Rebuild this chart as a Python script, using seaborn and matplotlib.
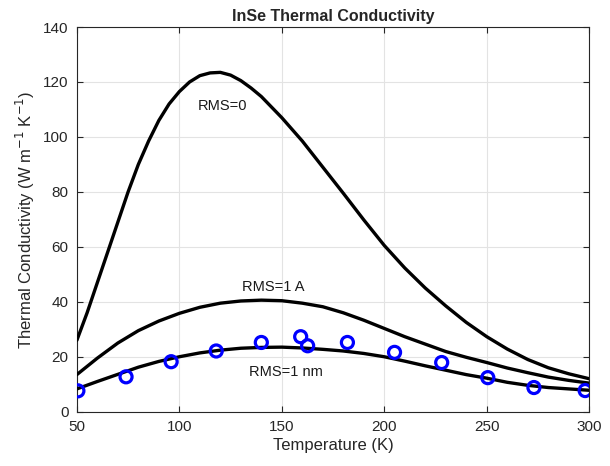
"""InSe thermal conductivity vs temperature, three roughness curves + measured points."""
import matplotlib
matplotlib.use("Agg")
import matplotlib.pyplot as plt
import pandas as pd
import seaborn as sns

# model curves
T_FINE = [50, 55, 60, 65, 70, 75, 80, 85, 90, 95, 100, 105, 110, 115, 120, 125,
          130, 135, 140, 150, 160, 170, 180, 190, 200, 210, 220, 230, 240, 250,
          260, 270, 280, 290, 300]
K_RMS0 = [26, 36, 47, 58, 69, 80, 90, 98.5, 106, 112, 116.5, 120, 122.3, 123.3,
          123.5, 122.5, 120.5, 117.8, 114.7, 107, 98.5, 89, 79.5, 69.8, 60.5,
          52.3, 45, 38.5, 32.5, 27.3, 22.8, 19, 16, 13.8, 12]

T_COARSE = [50, 60, 70, 80, 90, 100, 110, 120, 130, 140, 150, 160, 170, 180,
            190, 200, 210, 220, 230, 240, 250, 260, 270, 280, 290, 300]
K_RMS1A = [13.5, 19.5, 25, 29.5, 33, 35.8, 38, 39.5, 40.3, 40.6, 40.4, 39.5,
           38.2, 36, 33.3, 30.3, 27.3, 24.6, 21.9, 19.8, 17.9, 15.9, 14.2, 12.6,
           11.4, 10.4]
K_RMS1NM = [8.3, 11, 13.6, 16.2, 18.3, 20, 21.4, 22.4, 23.1, 23.4, 23.5, 23.2,
            22.7, 22.1, 21.2, 20, 18.4, 16.7, 15.1, 13.5, 12.2, 10.7, 9.6, 8.8,
            8.3, 7.8]

# measured points
T_EXP = [50.5, 74, 96, 118, 140, 159.2, 162.6, 182, 205, 228, 250.5, 273, 298]
K_EXP = [7.6, 12.7, 18.2, 22.1, 25.2, 27.3, 24.0, 25.2, 21.6, 17.9, 12.4, 8.8, 7.7]

LABELS = ["RMS=0", "RMS=1 A", "RMS=1 nm"]
LABEL_POS = [(121, 111.3), (146, 45.5), (152, 14.5)]


def main():
    sns.set_style("white")
    plt.rcParams["font.family"] = ["Liberation Sans", "DejaVu Sans"]

    fig = plt.figure(figsize=(6.1, 4.66), dpi=100)
    ax = fig.add_axes([0.126, 0.1165, 0.84, 0.8255])

    curves = [
        pd.DataFrame({"T": T_FINE, "k": K_RMS0}),
        pd.DataFrame({"T": T_COARSE, "k": K_RMS1A}),
        pd.DataFrame({"T": T_COARSE, "k": K_RMS1NM}),
    ]
    for df in curves:
        sns.lineplot(data=df, x="T", y="k", color="black", linewidth=2.4,
                     ax=ax, zorder=3)

    exp = pd.DataFrame({"T": T_EXP, "k": K_EXP})
    sns.scatterplot(data=exp, x="T", y="k", marker="o", s=75,
                    facecolor="none", edgecolor="#0000ff", linewidth=2.3,
                    ax=ax, zorder=4)

    for text, (x, y) in zip(LABELS, LABEL_POS):
        ax.text(x, y, text, ha="center", va="center", fontsize=10.5,
                color="#1a1a1a")

    ax.set_xlim(50, 300)
    ax.set_ylim(0, 140)
    ax.set_xticks(range(50, 301, 50))
    ax.set_yticks(range(0, 141, 20))
    ax.grid(True, color="#e3e3e3", linewidth=0.8)
    ax.set_axisbelow(True)
    for sp in ax.spines.values():
        sp.set_color("#262626")
        sp.set_linewidth(0.8)
    ax.tick_params(direction="in", length=4, width=0.8, colors="#262626",
                   labelsize=11, pad=6, top=True, right=True, bottom=True,
                   left=True)

    ax.set_xlabel("Temperature (K)", fontsize=12, color="#262626", labelpad=3)
    ax.set_ylabel("Thermal Conductivity (W m$^{-1}$ K$^{-1}$)", fontsize=12,
                  color="#262626")
    ax.set_title("InSe Thermal Conductivity", fontsize=11.5, fontweight="bold",
                 pad=4)

    plt.savefig("out.png", dpi=100)
    plt.close()


if __name__ == "__main__":
    main()
